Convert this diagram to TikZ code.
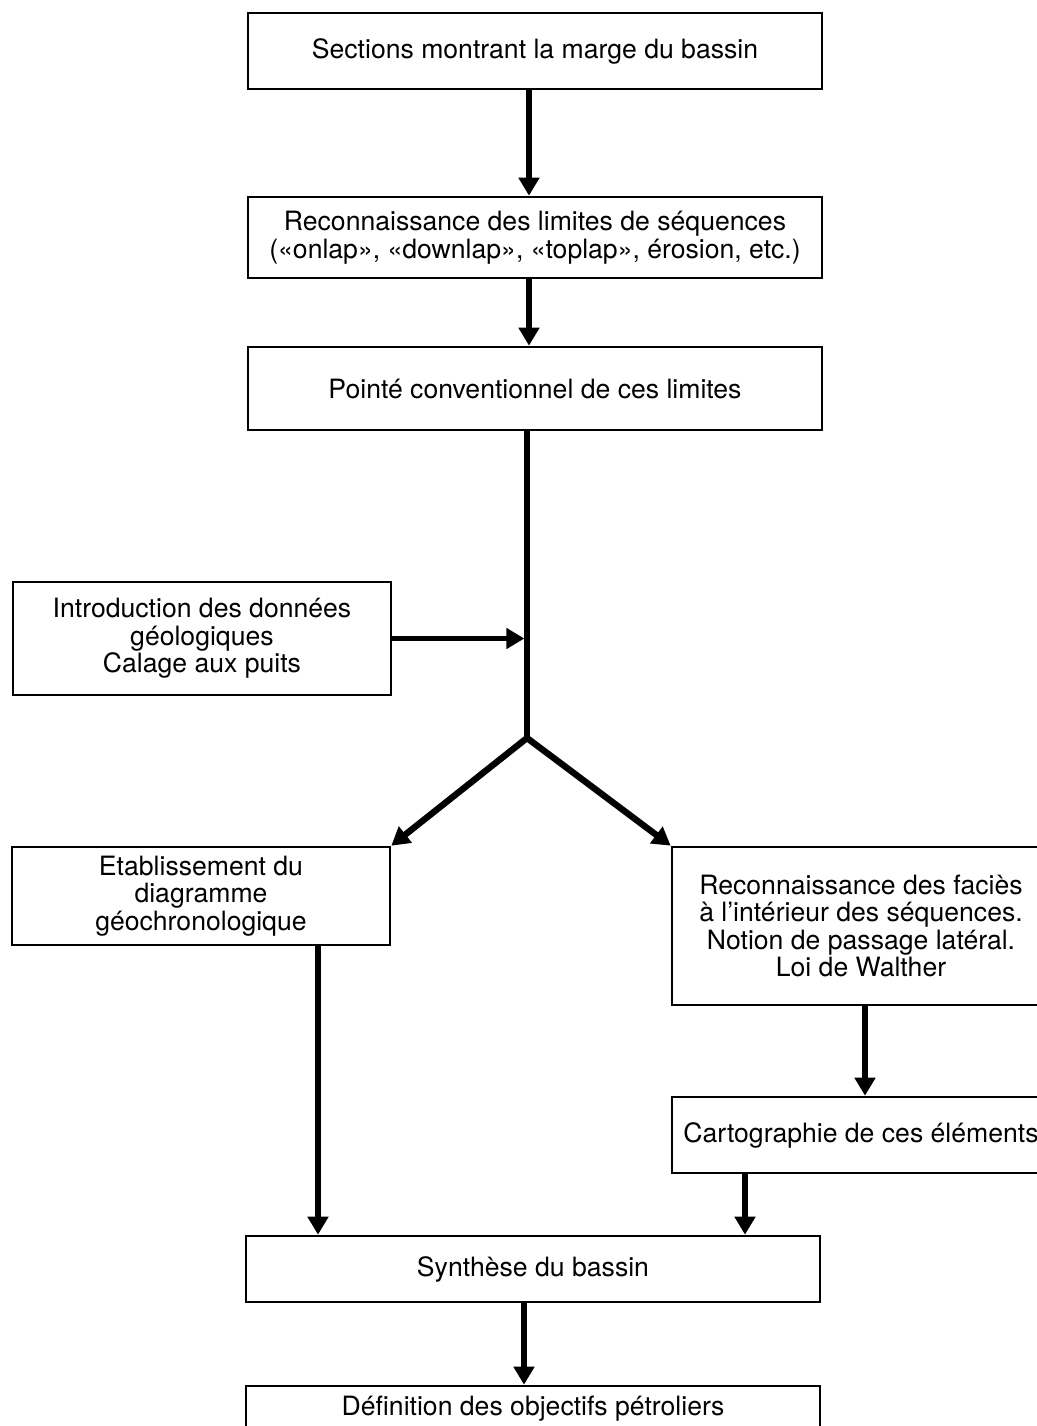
\documentclass[tikz,border=0pt]{standalone}
\usepackage{fontspec}
\setmainfont{TeX Gyre Heros}
\usetikzlibrary{arrows.meta}
\begin{document}
\begin{tikzpicture}[x=0.5pt,y=-0.5pt,
  box/.style={draw, line width=1.3pt, align=center, inner sep=0pt, font=\fontsize{13.3}{13.7}\selectfont},
  arr/.style={line width=3.2pt, -{Triangle[length=9pt,width=10pt]}},
  arrthin/.style={line width=2.6pt, -{Triangle[length=9pt,width=10pt]}},
  trunk/.style={line width=2.6pt}]
\useasboundingbox (0,0) rectangle (1037,1426);
\fill[white] (0,0) rectangle (1037,1426);
\clip (0,0) rectangle (1037,1426);
% boxes
\node[box, minimum width=287pt, minimum height=38pt] (b1) at (535,51) {Sections montrant la marge du bassin};
\node[box, minimum width=287pt, minimum height=40.5pt] (b2) at (535,237.5) {Reconnaissance des limites de séquences\\(«onlap», «downlap», «toplap», érosion, etc.)};
\node[box, minimum width=287pt, minimum height=41.5pt] (b3) at (535,388.5) {Pointé conventionnel de ces limites};
\node[box, minimum width=189pt, minimum height=56.5pt] (b4) at (202,638.5) {Introduction des données\\géologiques\\Calage aux puits};
\node[box, minimum width=189pt, minimum height=49pt] (b5) at (201,896) {Etablissement du\\diagramme\\géochronologique};
\node[box, minimum width=189pt, minimum height=79pt] (b6) at (861,926) {Reconnaissance des faciès\\à l’intérieur des séquences.\\Notion de passage latéral.\\Loi de Walther};
\node[box, minimum width=189pt, minimum height=38pt] (b7) at (861,1135) {Cartographie de ces éléments};
\node[box, minimum width=287pt, minimum height=33pt] (b8) at (533,1269) {Synthèse du bassin};
\node[box, minimum width=287pt, minimum height=23pt] (b9) at (533,1409) {Définition des objectifs pétroliers};
% coordinates
\coordinate (j) at (527,738);
\coordinate (xa) at (529,0);
\coordinate (x5) at (318,0);
\coordinate (x6) at (865,0);
\coordinate (x7) at (745,0);
\coordinate (x8) at (524,0);
% connectors
\draw[arr] (b1.south -| xa) -- (b2.north -| xa);
\draw[arr] (b2.south -| xa) -- (b3.north -| xa);
\draw[trunk] (b3.south -| j) -- (j);
\draw[arrthin, shorten >=1.3pt] (b4.east) -- (j |- b4.east);
\draw[line width=3.2pt, line join=miter, {Triangle[length=9pt,width=10pt]}-{Triangle[length=9pt,width=10pt]}] (b5.north east) -- (j) -- (b6.north west);
\draw[arr] (b5.south -| x5) -- (b8.north -| x5);
\draw[arr] (b6.south -| x6) -- (b7.north -| x6);
\draw[arr] (b7.south -| x7) -- (b8.north -| x7);
\draw[arr] (b8.south -| x8) -- (b9.north -| x8);
\end{tikzpicture}
\end{document}
